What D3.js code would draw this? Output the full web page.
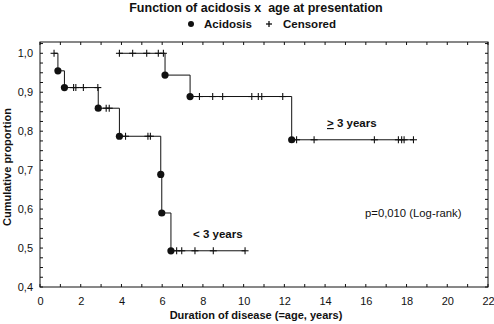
<!DOCTYPE html>
<html><head><meta charset="utf-8">
<script src="https://cdn.jsdelivr.net/npm/d3@7"></script>
<style>
html,body{margin:0;padding:0;background:#fff;}
text{font-family:"Liberation Sans",Arial,sans-serif;fill:#111;white-space:pre;}
</style></head>
<body><svg id="c" width="494" height="324"></svg>
<script>
// ---- data ----
const xTicks = [0,2,4,6,8,10,12,14,16,18,20,22];
const yTicks = [0.4,0.5,0.6,0.7,0.8,0.9,1.0];

// group "< 3 years"
const youngStart = 0.69;
const youngEnd = 10.07;
const youngEventTimes = [0.88, 1.20, 2.86, 3.90, 5.93, 5.98, 6.43];
const youngEventSurv  = [0.955, 0.912, 0.859, 0.787, 0.689, 0.590, 0.493];
const youngCensored   = [0.69, 1.65, 1.76, 2.13, 2.84, 3.25, 3.40, 4.20, 5.30, 5.42, 6.71, 6.96, 7.61, 8.51, 10.07];

// group ">= 3 years"
const oldStart = 3.85;
const oldEnd = 18.34;
const oldEventTimes = [6.14, 7.37, 12.36];
const oldEventSurv  = [0.944, 0.889, 0.778];
const oldCensored   = [3.90, 4.55, 5.24, 5.81, 6.06, 7.83, 8.48, 8.97, 10.40, 10.72, 10.89, 11.92, 12.60, 13.46, 16.42, 17.60, 17.76, 17.88, 18.34];

// ---- layout ----
const svg = d3.select("#c");
const L = 40, R = 488, T = 42, B = 287;
const x = d3.scaleLinear().domain([0,22]).range([L,R]);
const y = d3.scaleLinear().domain([0.4,1.029]).range([B,T]);
const ink = "#111";

// frame
svg.append("rect").attr("x",L).attr("y",T).attr("width",R-L).attr("height",B-T)
  .attr("fill","none").attr("stroke",ink).attr("stroke-width",1);

// axes
const fmt = d => d3.format(".1f")(d).replace(".",",");
const gx = svg.append("g").attr("transform",`translate(0,${B})`)
  .call(d3.axisBottom(x).tickValues(xTicks).tickSize(0).tickPadding(10).tickFormat(d=>d));
const gy = svg.append("g").attr("transform",`translate(${L},0)`)
  .call(d3.axisLeft(y).tickValues(yTicks).tickSize(0).tickPadding(7).tickFormat(fmt));
[gx,gy].forEach(g=>{
  g.select(".domain").remove();
  g.selectAll("text").attr("font-size",11).attr("font-family","Liberation Sans, Arial, sans-serif").attr("fill","#222");
});

// inner ticks on all sides
const xMinor = d3.range(0,23,1);
const yMinor = d3.range(0,26).map(i=>0.4+i*0.025);
const tk = svg.append("g").attr("stroke",ink).attr("stroke-width",1);
xMinor.forEach(v=>{
  tk.append("line").attr("x1",x(v)).attr("x2",x(v)).attr("y1",B).attr("y2",B-3);
  tk.append("line").attr("x1",x(v)).attr("x2",x(v)).attr("y1",T).attr("y2",T+3);
});
yMinor.forEach(v=>{
  tk.append("line").attr("x1",L).attr("x2",L+3).attr("y1",y(v)).attr("y2",y(v));
  tk.append("line").attr("x1",R).attr("x2",R-3).attr("y1",y(v)).attr("y2",y(v));
});

// KM step curves
function steps(start, end, et, es){
  const pts = [[start,1]];
  let s = 1;
  et.forEach((t,i)=>{ pts.push([t,s]); s = es[i]; pts.push([t,s]); });
  pts.push([end,s]);
  return pts;
}
function survAt(t, et, es){
  let s = 1;
  et.forEach((e,i)=>{ if (e <= t) s = es[i]; });
  return s;
}
const line = d3.line().x(d=>x(d[0])).y(d=>y(d[1]));
function drawGroup(start,end,et,es,cens){
  svg.append("path").datum(steps(start,end,et,es)).attr("d",line)
    .attr("fill","none").attr("stroke",ink).attr("stroke-width",1);
  svg.append("g").selectAll("circle").data(et).join("circle")
    .attr("cx",d=>x(d)).attr("cy",(d,i)=>y(es[i])).attr("r",3.6).attr("fill",ink);
  const cg = svg.append("g").attr("stroke",ink).attr("stroke-width",1.1);
  cens.forEach(t=>{
    const cx = x(t), cy = y(survAt(t,et,es));
    cg.append("line").attr("x1",cx-3.5).attr("x2",cx+3.5).attr("y1",cy).attr("y2",cy);
    cg.append("line").attr("x1",cx).attr("x2",cx).attr("y1",cy-3.5).attr("y2",cy+3.5);
  });
}
drawGroup(youngStart,youngEnd,youngEventTimes,youngEventSurv,youngCensored);
drawGroup(oldStart,oldEnd,oldEventTimes,oldEventSurv,oldCensored);

// texts
svg.append("text").attr("x",256).attr("y",12).attr("text-anchor","middle")
  .attr("font-size",12.5).attr("font-weight","bold").text("Function of acidosis x  age at presentation");
// legend
svg.append("circle").attr("cx",191).attr("cy",24).attr("r",3).attr("fill",ink);
svg.append("text").attr("x",204).attr("y",28).attr("font-size",11.5).attr("font-weight","bold").text("Acidosis");
svg.append("line").attr("x1",266).attr("x2",272).attr("y1",24).attr("y2",24).attr("stroke",ink).attr("stroke-width",1.3);
svg.append("line").attr("x1",269).attr("x2",269).attr("y1",21).attr("y2",27).attr("stroke",ink).attr("stroke-width",1.3);
svg.append("text").attr("x",283).attr("y",28).attr("font-size",11.5).attr("font-weight","bold").text("Censored");

svg.append("text").attr("x",256).attr("y",319).attr("text-anchor","middle")
  .attr("font-size",11).attr("font-weight","bold").text("Duration of disease (=age, years)");
svg.append("text").attr("transform","translate(11,167) rotate(-90)").attr("text-anchor","middle")
  .attr("font-size",11).attr("font-weight","bold").text("Cumulative proportion");

const t3 = svg.append("text").attr("x",327).attr("y",127).attr("font-size",11.5).attr("font-weight","bold");
t3.append("tspan").attr("text-decoration","underline").text(">");
t3.append("tspan").text(" 3 years");
svg.append("text").attr("x",193).attr("y",238).attr("font-size",11.5).attr("font-weight","bold").text("< 3 years");
svg.append("text").attr("x",365).attr("y",217).attr("font-size",11.3).text("p=0,010 (Log-rank)");
</script></body></html>
